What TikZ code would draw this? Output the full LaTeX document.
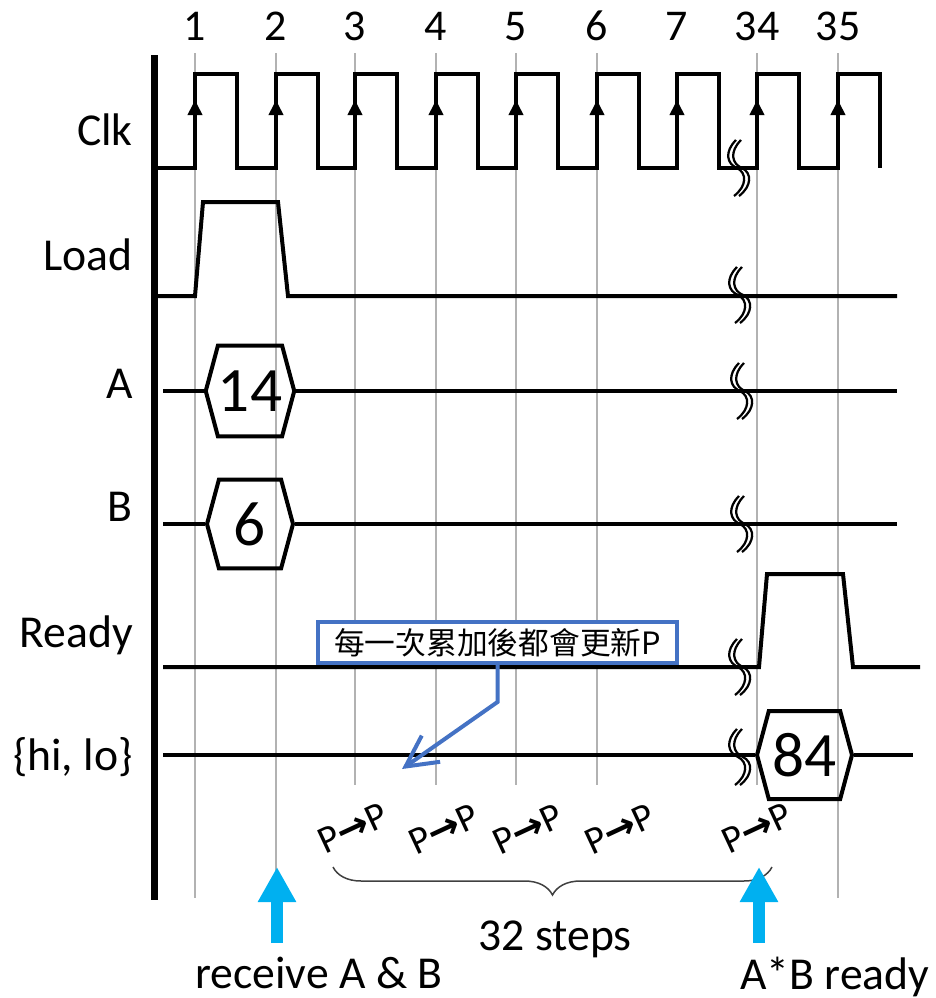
\documentclass[tikz,border=0pt]{standalone}
\usepackage{fontspec}
\setmainfont{Carlito}
\newfontfamily\cjkfont{Noto Sans CJK TC}
\newfontfamily\arrowfont{DejaVu Sans}
\usetikzlibrary{arrows.meta,shapes.symbols,decorations.pathreplacing}
\definecolor{noteblue}{RGB}{68,114,196}
\definecolor{upcyan}{RGB}{0,176,240}
\definecolor{gridgray}{RGB}{178,178,178}
\definecolor{bracegray}{RGB}{64,64,64}
\tikzset{
  wave/.style={line width=0.08cm, line join=miter},
  gridln/.style={gridgray, line width=0.04cm},
  lbl/.style={font=\fontsize{26}{30}\selectfont, anchor=base east, inner sep=0pt},
  num/.style={font=\fontsize{25}{30}\selectfont, anchor=base, inner sep=0pt},
  bus/.style={signal, signal to=west and east, signal pointer angle=150, draw,
              line width=0.08cm, inner sep=0pt, font=\fontsize{36}{40}\selectfont},
  pp/.style={font=\fontsize{22}{24}\selectfont, rotate=25, inner sep=0pt},
  bottomtxt/.style={font=\fontsize{26}{30}\selectfont, inner sep=0pt},
  edgeup/.style={line width=0.08cm, -{Triangle[length=0.3cm,width=0.28cm]}},
  bigup/.style={upcyan, line width=0.24cm, -{Triangle[length=0.7cm,width=0.72cm]}},
  notebox/.style={draw=noteblue, line width=0.08cm, fill=white, inner sep=2pt,
                  font=\cjkfont\fontsize{17.5}{20}\selectfont,
                  minimum width=7.18cm, minimum height=0.82cm},
  notearrow/.style={noteblue, line width=0.08cm, -{Straight Barb[length=0.62cm,width=0.64cm]}},
  wavebreak/.pic={
    \draw[line width=0.045cm] (-1,-28) .. controls (-13,-16) and (-10,-4) .. (0,0)
      .. controls (10,5) and (10,18) .. (-3,28);
    \draw[line width=0.045cm] (4,-28) .. controls (-8,-16) and (-5,-4) .. (5,0)
      .. controls (15,5) and (15,18) .. (2,28);
  }
}
\newcommand\pstep{P{\arrowfont\bfseries →}P}
\begin{document}
\begin{tikzpicture}[x=0.02cm, y=-0.02cm]
  \useasboundingbox (0,0) rectangle (936,998);
  % clock grid and cycle numbers
  \foreach \x/\t/\e in {195/1/898, 276/2/900, 355/3/785, 436/4/785, 516/5/785,
                        597/6/785, 757/34/785, 838/35/898}{
    \draw[gridln] (\x,53) -- (\x,\e);
    \node[num] (n\t) at (\x,40) {\t};
  }
  \node[num] (n7) at (677,40) {7};
  \draw[line width=0.14cm] (154,55) -- (154,900);

  % signal names
  \node[lbl] (lclk) at (133,145) {Clk};
  \node[lbl] (lload) at (133,270) {Load};
  \node[lbl] (la) at (133,398) {A};
  \node[lbl] (lb) at (133,521) {B};
  \node[lbl] (lready) at (133,647) {Ready};
  \node[lbl] (lhilo) at (133,770) {\{hi, lo\}};

  % Clk
  \draw[wave] (157,168) -| (195,74) -| (237,168) -| (276,74) -| (318,168) -| (355,74)
    -| (397,168) -| (436,74) -| (478,168) -| (516,74) -| (558,168) -| (597,74)
    -| (639,168) -| (677,74) -| (719,168) -| (757,74) -| (799,168) -| (838,74) -| (880,168);
  \foreach \x in {195,276,355,436,516,597,677,757,838}
    \draw[edgeup] (\x,168) -- (\x,100);

  % Load
  \draw[wave] (157,296) -- (195,296) -- (203,202) -- (278,202) -- (288,296) -- (897,296);

  % A and B
  \node[bus, minimum width=1.72cm, minimum height=1.82cm] (va) at (250,391) {14};
  \draw[wave] (163,391) -- (va.west); \draw[wave] (va.east) -- (897,391);
  \node[bus, minimum width=1.72cm, minimum height=1.78cm] (vb) at (250,524) {6};
  \draw[wave] (163,524) -- (vb.west); \draw[wave] (vb.east) -- (897,524);

  % Ready
  \draw[wave] (163,667) -- (759,667) -- (767,574) -- (843,574) -- (853,667) -- (920,667);

  % {hi, lo}
  \node[bus, minimum width=1.9cm, minimum height=1.76cm] (vhl) at (804.5,755) {84};
  \draw[wave] (163,755) -- (vhl.west); \draw[wave] (vhl.east) -- (913,755);

  % breaks
  \pic at (737,168) {wavebreak};
  \pic at (738,295) {wavebreak};
  \pic at (740,391) {wavebreak};
  \pic at (740,524) {wavebreak};
  \pic at (738,667) {wavebreak};
  \pic at (738,757) {wavebreak};

  % note
  \node[notebox] (note) at (497.5,642.5) {每一次累加後都會更新P};
  \coordinate (notebend) at (497.5,702);
  \coordinate (notetip) at (402,769);
  \draw[notearrow] (note.south) -- (notebend) -- (notetip);

  % accumulate steps
  \node[pp] (pp1) at (353,828) {\pstep};
  \node[pp] (pp2) at (444,829) {\pstep};
  \node[pp] (pp3) at (528,829) {\pstep};
  \node[pp] (pp4) at (620,829) {\pstep};
  \node[pp] (pp5) at (757,828) {\pstep};
  \draw[bracegray, line width=0.03cm, decorate, decoration={brace, mirror, amplitude=0.56cm}]
    (333,867) -- (772,867);
  \node[bottomtxt, anchor=base] (steps) at (555,950) {32 steps};

  % markers
  \node[bottomtxt, anchor=base west] (recv) at (195,988) {receive A \& B};
  \node[bottomtxt, anchor=base west] (abrdy) at (740,989) {A*B ready};
  \coordinate (up1) at (277,943); \coordinate (up1tip) at (277,867);
  \coordinate (up2) at (759,943); \coordinate (up2tip) at (759,867);
  \draw[bigup] (up1) -- (up1tip);
  \draw[bigup] (up2) -- (up2tip);
\end{tikzpicture}
\end{document}
